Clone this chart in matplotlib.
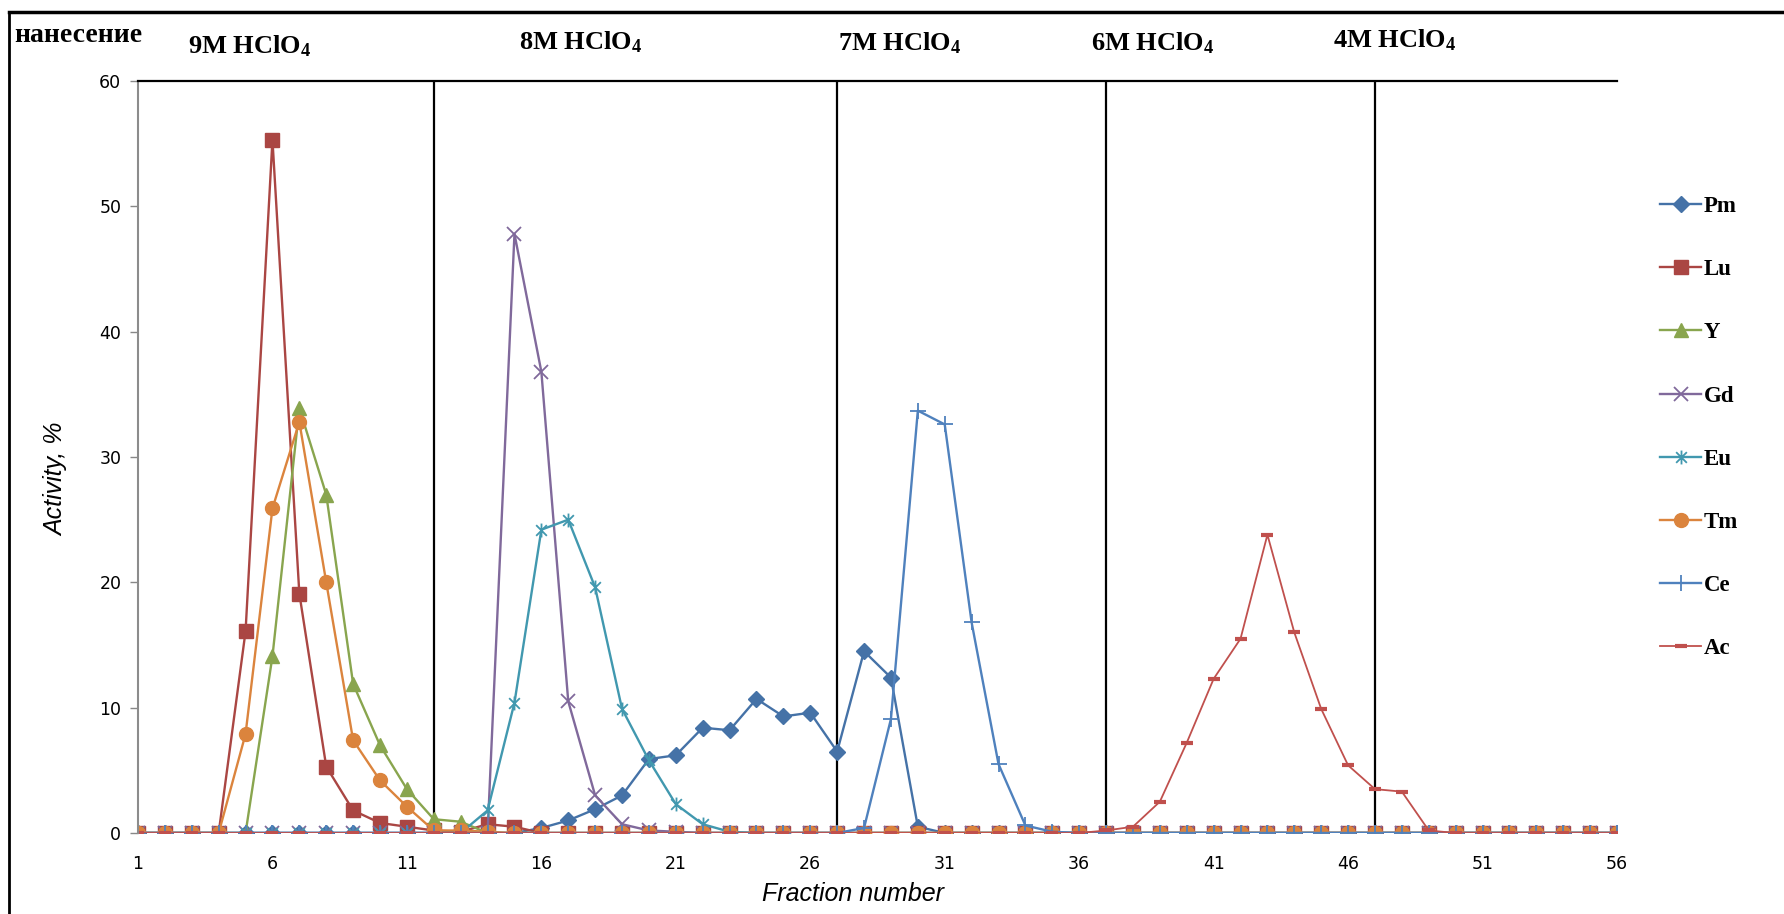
import matplotlib
matplotlib.use("Agg")
import matplotlib.pyplot as plt
from matplotlib.path import Path
from matplotlib.lines import Line2D

plt.rcParams['mathtext.fontset'] = 'custom'
plt.rcParams['mathtext.rm'] = 'Liberation Serif:bold'
plt.rcParams['mathtext.it'] = 'Liberation Serif:bold'
plt.rcParams['mathtext.bf'] = 'Liberation Serif:bold'

# Fraction numbers 1..56
fractions = list(range(1, 57))

pm = [0]*15 + [0.4, 1.0, 1.9, 3.0, 5.9, 6.2, 8.4, 8.2, 10.7, 9.3, 9.6, 6.5, 14.5, 12.4, 0.5] + [0]*26
lu = [0]*4 + [16.1, 55.3, 19.1, 5.3, 1.8, 0.8, 0.5, 0.2, 0.1, 0.7, 0.5] + [0]*41
y_ = [0]*5 + [14.1, 33.9, 27.0, 11.9, 7.0, 3.5, 1.1, 0.9] + [0]*43
gd = [0]*14 + [47.8, 36.8, 10.5, 3.0, 0.7, 0.2, 0.1] + [0]*35
eu = [0]*13 + [1.8, 10.4, 24.2, 25.0, 19.6, 9.9, 5.8, 2.3, 0.7, 0.1] + [0]*33
tm = [0]*4 + [7.9, 25.9, 32.8, 20.0, 7.4, 4.2, 2.1, 0.2, 0.2, 0.1] + [0]*42
ce = [0]*27 + [0.4, 9.1, 33.7, 32.6, 16.8, 5.5, 0.6, 0.1] + [0]*21
ac = [0]*36 + [0.2, 0.5, 2.5, 7.2, 12.3, 15.5, 23.8, 16.0, 9.9, 5.4, 3.5, 3.3, 0.2] + [0]*7

series_names = ["Pm", "Lu", "Y", "Gd", "Eu", "Tm", "Ce", "Ac"]
boundaries = [12, 27, 37, 47]
zone_labels = [r"9M HClO$_4$", r"8M HClO$_4$", r"7M HClO$_4$", r"6M HClO$_4$", r"4M HClO$_4$"]
xticks = list(range(1, 57, 5))
yticks = list(range(0, 61, 10))

# six-armed star: an x with a vertical bar
star = Path([(-1, -1), (1, 1), (-1, 1), (1, -1), (0, -1.3), (0, 1.3)],
            [Path.MOVETO, Path.LINETO, Path.MOVETO, Path.LINETO, Path.MOVETO, Path.LINETO])

styles = [
    dict(color="#4572A7", marker="D", ms=8.5, lw=1.7),
    dict(color="#AA4643", marker="s", ms=10, lw=1.7),
    dict(color="#89A54E", marker="^", ms=10, lw=1.7),
    dict(color="#80699B", marker="x", ms=10, mew=1.3, lw=1.7),
    dict(color="#4198AF", marker=star, ms=10, mew=1.3, lw=1.7),
    dict(color="#DB843D", marker="o", ms=10, lw=1.7),
    dict(color="#4F81BD", marker="+", ms=12, mew=1.3, lw=1.7),
    dict(color="#C0504D", marker="_", ms=8, mew=3, lw=1.3),
]

W, H = 1784, 914
fig = plt.figure(figsize=(W/100, H/100), dpi=100)

def fx(px):
    return px / W

def fy(py):
    return 1 - py / H

ax = fig.add_axes([fx(138), fy(833), fx(1617) - fx(138), fy(81) - fy(833)])

data = [pm, lu, y_, gd, eu, tm, ce, ac]
handles = []
for name, vals, st in zip(series_names, data, styles):
    st = dict(st)
    c = st.pop("color")
    ln, = ax.plot(fractions, vals, color=c, markerfacecolor=c, markeredgecolor=c,
                  label=name, **st)
    handles.append(ln)

for b in boundaries:
    ax.axvline(b, color="black", lw=1.6, zorder=1)

ax.set_xlim(1, 56)
ax.set_ylim(0, 60)
ax.set_xticks(xticks)
ax.set_yticks(yticks)
ax.tick_params(axis="x", length=0, pad=16, labelsize=12.5)
ax.tick_params(axis="y", length=6, width=1, color="#888888", pad=6, labelsize=12.5)

for s in ("right", "bottom"):
    ax.spines[s].set_visible(False)
ax.spines["left"].set_color("#8c8c8c")
ax.spines["left"].set_linewidth(1.5)
ax.spines["top"].set_color("black")
ax.spines["top"].set_linewidth(1.6)

# axis titles
fig.text(fx(56), fy(479), "Activity, %", rotation=90, ha="center", va="center",
         fontsize=18, style="italic", family="Liberation Sans")
fig.text(fx(853), fy(894), "Fraction number", ha="center", va="center",
         fontsize=18, style="italic", family="Liberation Sans")

# eluent zones above the plot
fig.text(fx(14), fy(35), "нанесение", ha="left", va="center", fontsize=20,
         weight="bold", family="Liberation Serif")
zone_x = [188, 519, 838, 1091, 1333]
zone_y = [46, 42, 43, 43, 40]
for lbl, zx, zy in zip(zone_labels, zone_x, zone_y):
    fig.text(fx(zx), fy(zy), lbl, ha="left", va="center", fontsize=19,
             weight="bold", family="Liberation Serif")

leg = fig.legend(handles=handles, labels=series_names, loc="upper left",
                 bbox_to_anchor=(fx(1660), fy(196)), bbox_transform=fig.transFigure,
                 frameon=False, borderpad=0, borderaxespad=0, handlelength=1.8,
                 handletextpad=0.1, labelspacing=1.84,
                 prop=dict(family="Liberation Serif", weight="bold", size=16.5))

# frame around the figure
fig.add_artist(Line2D([fx(9), fx(9)], [fy(12), 0], color="black", lw=2, transform=fig.transFigure))
fig.add_artist(Line2D([fx(9), 1], [fy(12), fy(12)], color="black", lw=2.5, transform=fig.transFigure))

fig.savefig("out.png", dpi=100)
